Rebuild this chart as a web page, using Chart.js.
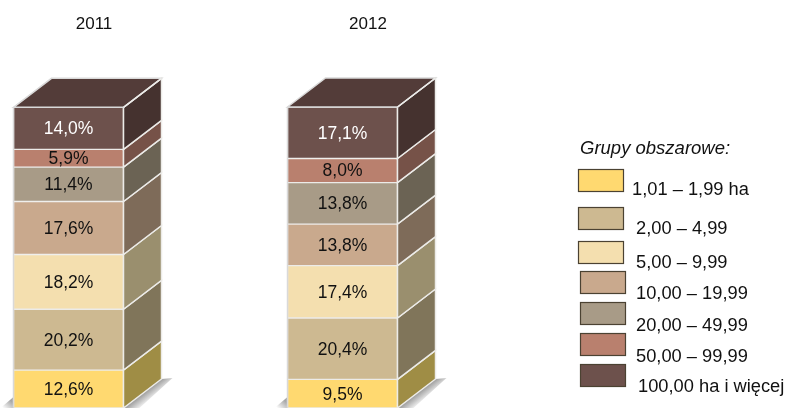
<!DOCTYPE html>
<html lang="pl">
<head>
<meta charset="utf-8">
<title>Grupy obszarowe</title>
<script src="https://cdn.jsdelivr.net/npm/chart.js@4/dist/chart.umd.min.js"></script>
<style>
  html, body { margin: 0; padding: 0; background: #fff; overflow: hidden; }
  canvas { display: block; }
</style>
</head>
<body>
<canvas id="chart" width="785" height="408"></canvas>
<script>
const years = ['2011', '2012'];
const groupLabels = ['1,01 – 1,99 ha', '2,00 – 4,99', '5,00 – 9,99', '10,00 – 19,99', '20,00 – 49,99', '50,00 – 99,99', '100,00 ha i więcej'];
const group1 = [12.6, 9.5];
const group2 = [20.2, 20.4];
const group3 = [18.2, 17.4];
const group4 = [17.6, 13.8];
const group5 = [11.4, 13.8];
const group6 = [5.9, 8.0];
const group7 = [14.0, 17.1];
const legendTitle = 'Grupy obszarowe:';

const allGroups = [group1, group2, group3, group4, group5, group6, group7];
const frontColors = ['#ffd970', '#cdb991', '#f4dfaf', '#c9a98d', '#a89b87', '#b9806e', '#6d514c'];
const sideColors = ['#9f8d45', '#80755a', '#9a8f6e', '#7e6b59', '#6b6354', '#765248', '#45322f'];
const topColor = '#533c39';
const edgeColor = '#ecebe8';
const outerEdge = '#d9d9d9';
const depthX = 38;
const depthY = -29;

// hand placed, the legend in the source is not evenly spaced
const legendBoxes = [
  { x: 578, y: 169, text: 632, base: 195 },
  { x: 578, y: 207, text: 636, base: 234 },
  { x: 578, y: 241, text: 636, base: 268 },
  { x: 580, y: 271, text: 636, base: 299 },
  { x: 580, y: 302, text: 636, base: 331 },
  { x: 580, y: 333, text: 636, base: 362 },
  { x: 580, y: 364, text: 638, base: 392 }
];

function poly(ctx, pts, fill, stroke) {
  ctx.beginPath();
  pts.forEach((p, i) => i ? ctx.lineTo(p[0], p[1]) : ctx.moveTo(p[0], p[1]));
  ctx.closePath();
  if (fill) { ctx.fillStyle = fill; ctx.fill(); }
  if (stroke) { ctx.strokeStyle = stroke; ctx.lineWidth = 1.5; ctx.stroke(); }
}

const box3d = {
  id: 'box3d',
  // shadow goes under the bars
  beforeDatasetsDraw(chart) {
    const ctx = chart.ctx;
    chart.getDatasetMeta(0).data.forEach(bar => {
      const r = bar.x + bar.width / 2;
      const l = bar.x - bar.width / 2;
      const mx = r + depthX / 2;
      const my = bar.base + depthY / 2;
      const grad = ctx.createLinearGradient(mx, my, mx + 7, my + 9);
      grad.addColorStop(0, '#9a9a9a');
      grad.addColorStop(1, '#ffffff');
      poly(ctx, [[r, bar.base], [r + depthX, bar.base + depthY], [r + depthX + 11, bar.base + depthY - 1], [r + 16, bar.base]], grad);
      const left = ctx.createLinearGradient(l, bar.base - 5, l - 7, bar.base + 3);
      left.addColorStop(0, '#a8a8a8');
      left.addColorStop(1, '#ffffff');
      poly(ctx, [[l, bar.base - 11], [l, bar.base], [l - 13, bar.base]], left);
    });
  },
  afterDatasetsDraw(chart) {
    const ctx = chart.ctx;
    const count = chart.data.datasets.length;
    ctx.save();
    chart.data.datasets.forEach((ds, i) => {
      chart.getDatasetMeta(i).data.forEach((bar, j) => {
        const r = bar.x + bar.width / 2;
        const l = bar.x - bar.width / 2;
        poly(ctx, [[r, bar.y], [r + depthX, bar.y + depthY], [r + depthX, bar.base + depthY], [r, bar.base]], sideColors[i], edgeColor);
        if (i === count - 1) {
          poly(ctx, [[l, bar.y], [l + depthX, bar.y + depthY], [r + depthX, bar.y + depthY], [r, bar.y]], topColor, outerEdge);
          poly(ctx, [[r, bar.y], [r + depthX, bar.y + depthY]], null, edgeColor);
        }
        // value label
        const val = ds.data[j].toFixed(1).replace('.', ',') + '%';
        ctx.font = '17.5px "Liberation Sans"';
        ctx.textAlign = 'center';
        ctx.textBaseline = 'middle';
        ctx.fillStyle = i === count - 1 ? '#ffffff' : '#111111';
        ctx.fillText(val, bar.x, (bar.y + bar.base) / 2 + 1);
      });
    });
    // outer left edge of the front face
    chart.getDatasetMeta(0).data.forEach((bar, j) => {
      const top = chart.getDatasetMeta(count - 1).data[j].y;
      const l = bar.x - bar.width / 2;
      poly(ctx, [[l, top], [l, bar.base]], null, outerEdge);
    });
    ctx.restore();
  },
  afterDraw(chart) {
    const ctx = chart.ctx;
    ctx.save();
    ctx.textAlign = 'left';
    ctx.textBaseline = 'alphabetic';
    ctx.fillStyle = '#111111';
    ctx.font = 'italic 18.5px "Liberation Sans"';
    ctx.fillText(legendTitle, 580, 154);
    ctx.font = '18.3px "Liberation Sans"';
    groupLabels.forEach((label, i) => {
      const b = legendBoxes[i];
      ctx.fillStyle = frontColors[i];
      ctx.fillRect(b.x, b.y, 46, 23);
      ctx.strokeStyle = '#4b4232';
      ctx.lineWidth = 1.2;
      ctx.strokeRect(b.x + 0.5, b.y + 0.5, 45, 22);
      ctx.fillStyle = '#111111';
      ctx.fillText(label, b.text, b.base);
    });
    ctx.restore();
  }
};

new Chart(document.getElementById('chart'), {
  type: 'bar',
  data: {
    labels: years,
    datasets: allGroups.map((values, i) => ({
      label: groupLabels[i],
      data: values,
      backgroundColor: frontColors[i],
      borderColor: edgeColor,
      borderWidth: 1,
      borderSkipped: false,
      barThickness: 110,
      clip: false
    }))
  },
  options: {
    responsive: false,
    animation: false,
    layout: { padding: { left: 68.5, right: 442.5, top: 10, bottom: 0 } },
    plugins: { legend: { display: false }, tooltip: { enabled: false } },
    scales: {
      x: {
        position: 'top',
        stacked: true,
        offset: false,
        border: { display: false },
        grid: { display: false },
        ticks: { color: '#111111', font: { family: '"Liberation Sans"', size: 17 }, padding: -3, labelOffset: 25.5, maxRotation: 0, autoSkip: false },
        afterFit(scale) { scale.height = 30; }
      },
      y: { stacked: true, display: false, min: 0, max: 122.26 }
    }
  },
  plugins: [box3d]
});
</script>
</body>
</html>
